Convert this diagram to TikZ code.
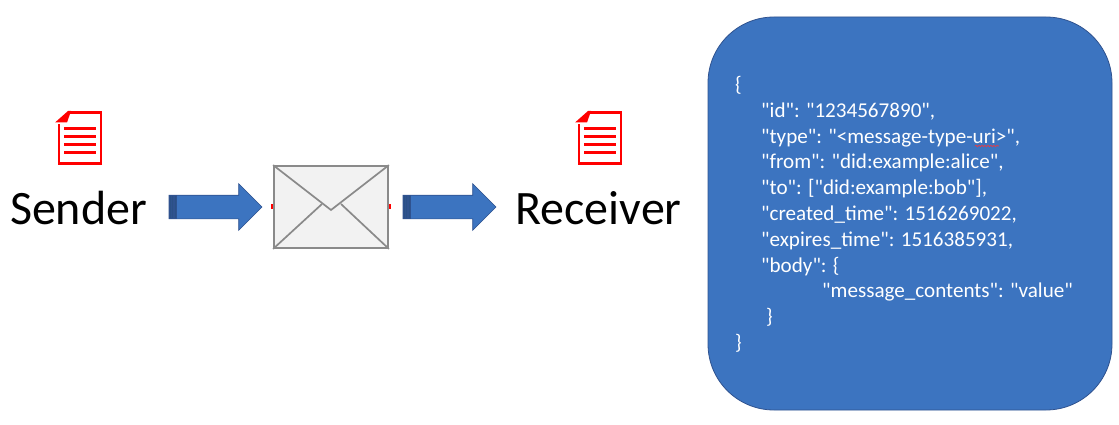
\documentclass[tikz,border=0pt]{standalone}
\usepackage{fontspec}
\setmainfont{Carlito}
\newfontfamily\jsonfont{Carlito}
\usetikzlibrary{shapes.arrows,positioning,decorations.pathmorphing}
\definecolor{boxblue}{HTML}{3C74C0}
\definecolor{boxedge}{HTML}{2F528F}
\definecolor{envgray}{HTML}{F2F2F2}
\definecolor{envedge}{HTML}{8A8A8A}

\begin{document}
\begin{tikzpicture}[
    x=1pt, y=-1pt,
    party/.style={inner sep=0pt, font=\fontsize{48}{48}\selectfont, text=black},
    blockarrow/.style={single arrow, draw=boxedge, fill=boxblue, line width=0.6pt, inner xsep=0pt, inner ysep=11.5pt, outer sep=0pt, minimum width=46pt, single arrow head extend=11.5pt, minimum height=93pt, anchor=tip},
    tailstrip/.style={rectangle, draw=boxedge, fill=boxblue!70!black, line width=0.5pt, inner sep=0pt, minimum width=2.2pt, minimum height=23pt},
    envelope/.style={rectangle, draw=envedge, fill=envgray, line width=1.8pt, inner sep=0pt, minimum width=114pt, minimum height=82pt},
    envfold/.style={envedge, line width=1.7pt},
    tick/.style={rectangle, fill=red, inner sep=0pt, minimum width=3.5pt, minimum height=5pt},
    jsonbox/.style={rectangle, draw=boxedge, fill=boxblue, rounded corners=66pt, line width=0.8pt, minimum width=404pt, minimum height=393pt},
    jsontext/.style={inner sep=0pt, align=left, text=white, font=\jsonfont\fontsize{21.1}{25.8}\selectfont},
    docline/.style={red, line width=3pt},
    docicon/.pic={
        \draw[red, line width=2.6pt] (-21,-13) -- (-21,26) -- (21,26) -- (21,-25) -- (-12,-25);
        \fill[red] (-25,-15) -- (-12,-26.5) -- (-9,-26.5) -- (-13,-15) -- cycle;
        \foreach \y in {-9,-1,7,15} {
            \draw[docline] (-16,\y) -- (16,\y);
        }
    }
]
\useasboundingbox (0,0) rectangle (1119,425);

% Sender side
\node[party] (sender) at (78.5,208) {Sender};
\pic at (80,137.5) {docicon};
\node[blockarrow] (sendarrow) at (262,207) {};
\foreach \i/\x in {1/170.2,2/172.6,3/175} {
    \node[tailstrip] (sendtail\i) at (\x,207) {};
}

% Envelope
\node[tick] (tickleft) at (272.8,206) {};
\node[tick] (tickright) at (389.5,206) {};
\node[envelope] (message) at (331,207) {};
\draw[envfold] (message.north west) -- (331,210) -- (message.north east);
\draw[envfold] (message.south west) -- (322,204);
\draw[envfold] (message.south east) -- (341,204);

% Receiver side
\node[party] (receiver) at (598.5,208) {Receiver};
\pic at (600,137.5) {docicon};
\node[blockarrow] (recvarrow) at (496,207) {};
\foreach \i/\x in {1/404.2,2/406.6,3/409} {
    \node[tailstrip] (recvtail\i) at (\x,207) {};
}

% Message contents
\node[jsonbox] (content) at (910,213.5) {};
\node[jsontext, anchor=north west] (contenttext) at (735,76) {\{\\
\hspace*{26pt}"id": "1234567890",\\
\hspace*{26pt}"type": "<message-type-uri>",\\
\hspace*{26pt}"from": "did:example:alice",\\
\hspace*{26pt}"to": ["did:example:bob"],\\
\hspace*{26pt}"created\_time": 1516269022,\\
\hspace*{26pt}"expires\_time": 1516385931,\\
\hspace*{26pt}"body": \{\\
\hspace*{87pt}"message\_contents": "value"\\
\hspace*{31pt}\}\\
\}};
\draw[red!80!white, line width=0.6pt, decorate, decoration={snake, amplitude=0.7pt, segment length=3pt}] (975,146) -- (999,146);

\end{tikzpicture}
\end{document}
